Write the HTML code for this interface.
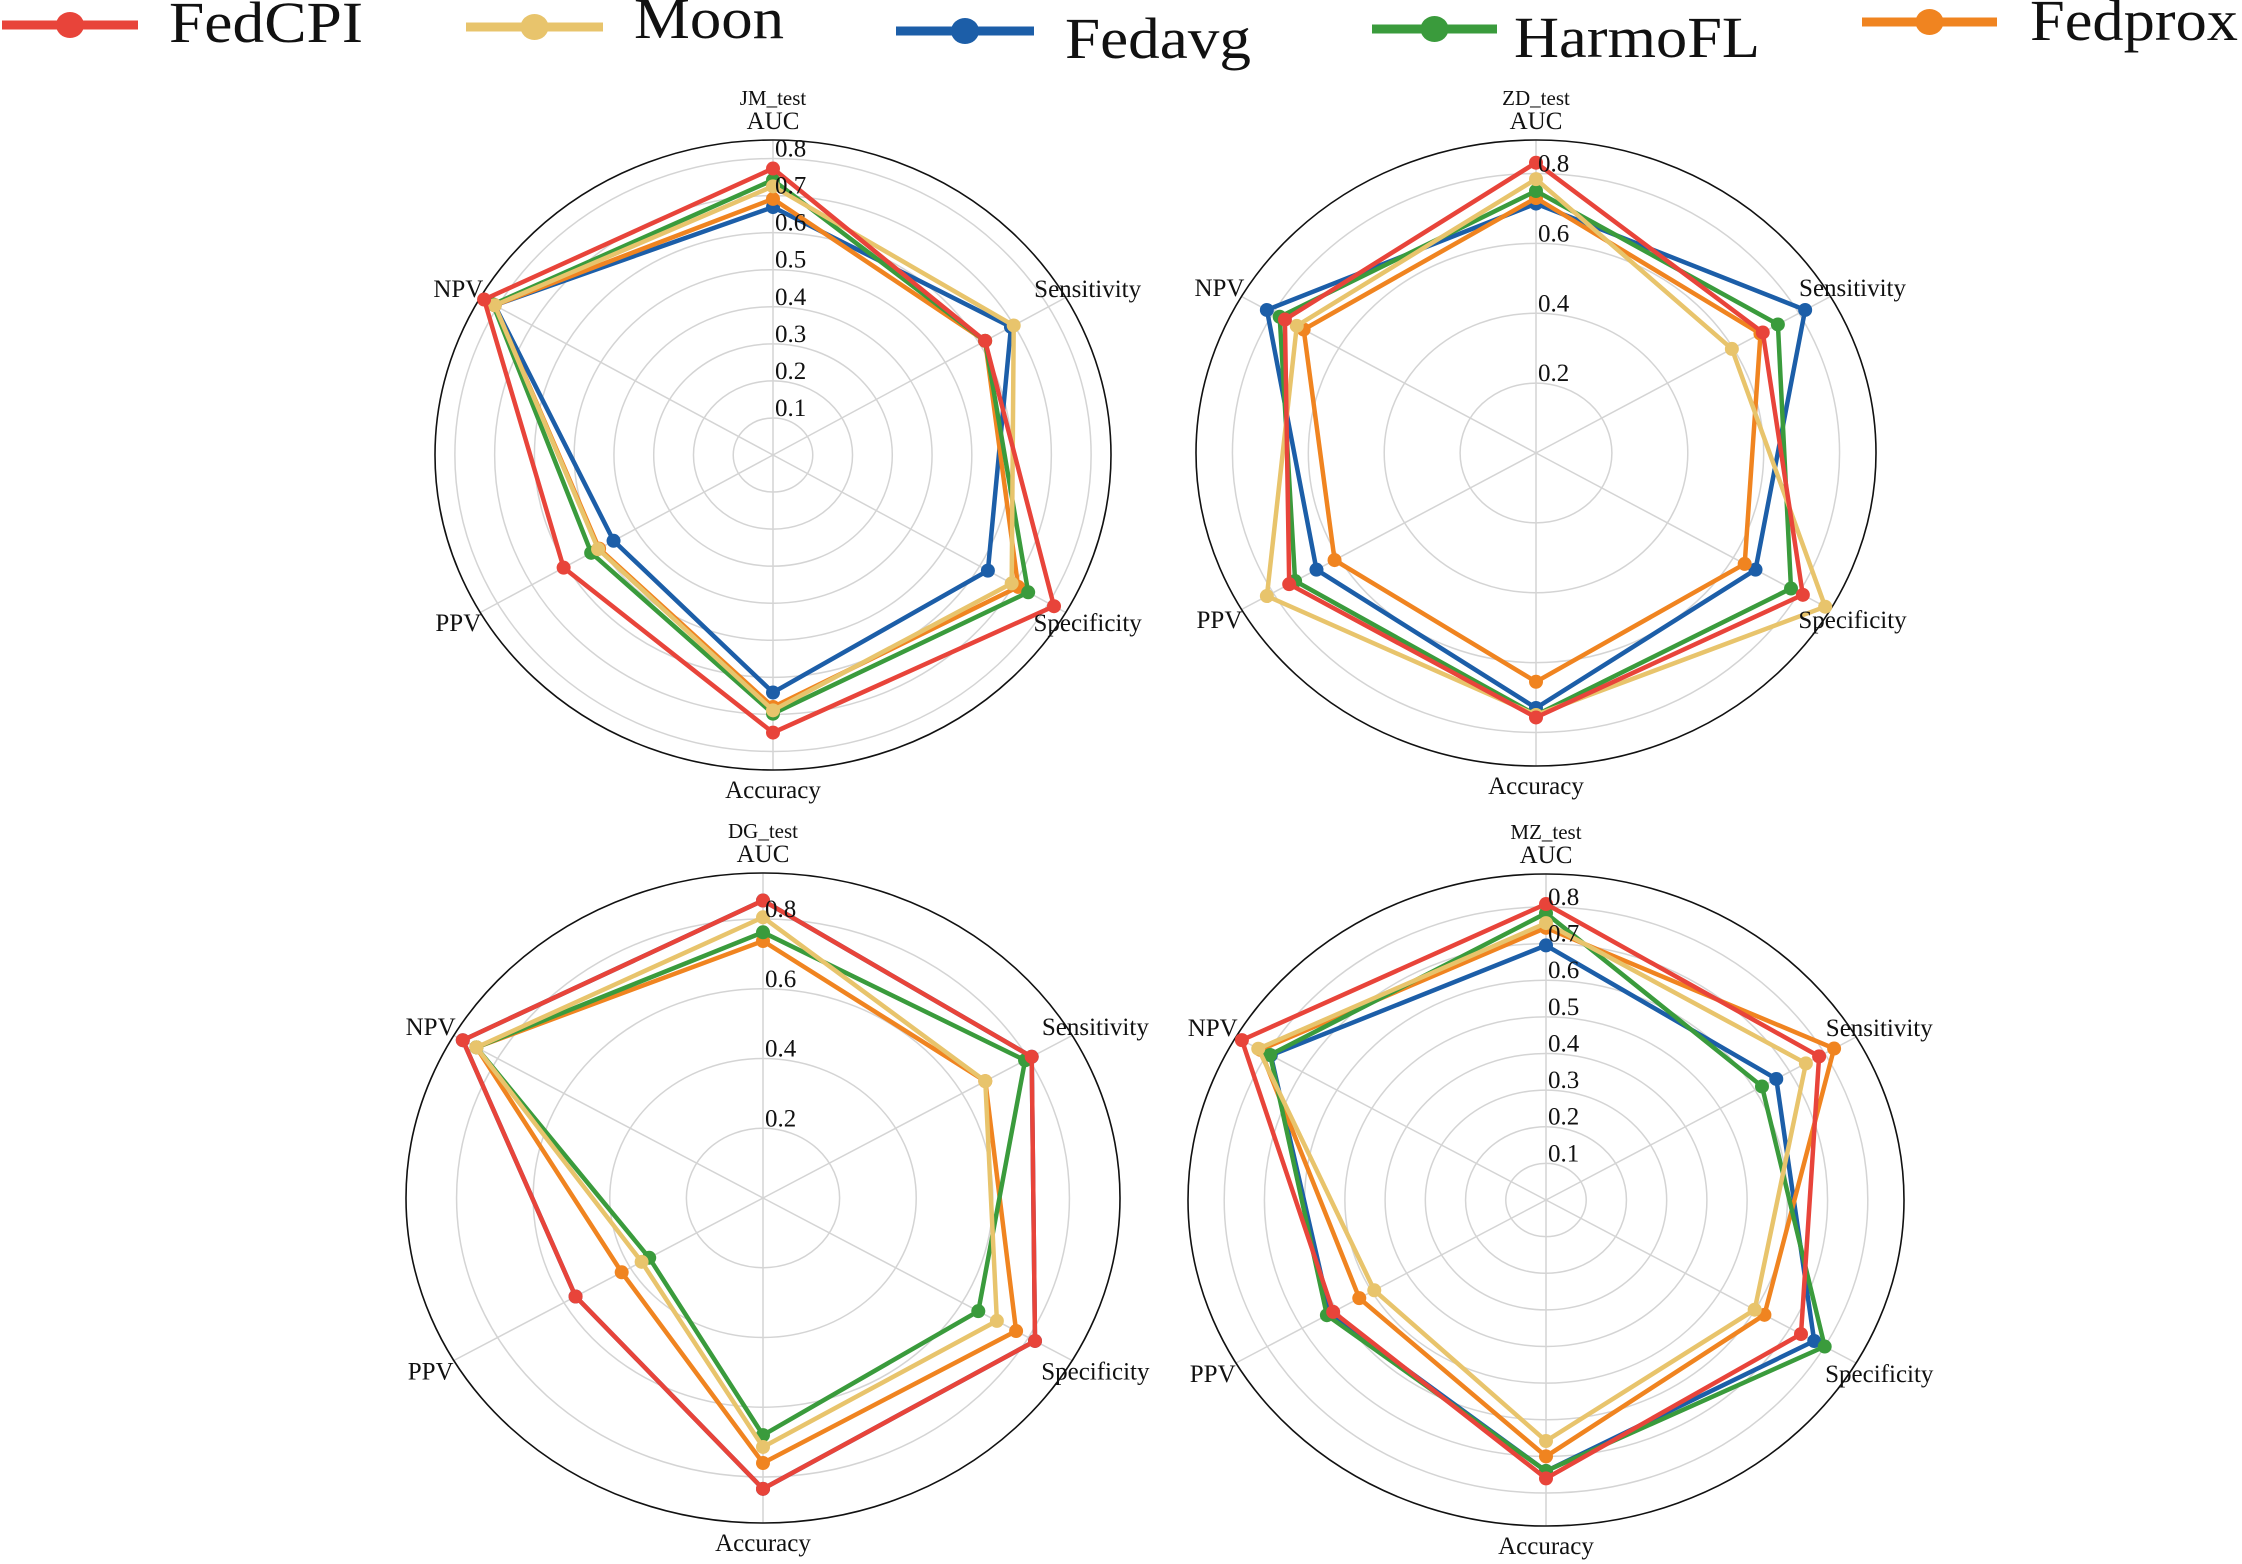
<!DOCTYPE html>
<html><head><meta charset="utf-8"><style>
html,body{margin:0;padding:0;background:#fff;}
svg{display:block;font-family:"Liberation Serif",serif;}
</style></head><body>
<svg id="fig" width="2242" height="1564" viewBox="0 0 2242 1564" xmlns="http://www.w3.org/2000/svg">
<g id="legend"></g>
<g id="charts"></g>
</svg>
<script>
const axesNames = ["AUC","Sensitivity","Specificity","Accuracy","PPV","NPV"];
const methods = ["Fedavg","Fedprox","HarmoFL","Moon","FedCPI"];
const colors = {FedCPI:"#e8443a",Moon:"#e8c46c",Fedavg:"#1c5ea8",HarmoFL:"#3a9b3c",Fedprox:"#f08420"};
const datasets = ["JM_test","ZD_test","DG_test","MZ_test"];
const rMax = [0.85,0.896,0.932,0.89];
const tickSets = [[0.1,0.2,0.3,0.4,0.5,0.6,0.7,0.8],[0.2,0.4,0.6,0.8],[0.2,0.4,0.6,0.8],[0.1,0.2,0.3,0.4,0.5,0.6,0.7,0.8]];
// values order: AUC, Sensitivity, Specificity, Accuracy, PPV, NPV
const jmFedCPI  = [0.773,0.616,0.816,0.749,0.608,0.839];
const jmMoon    = [0.725,0.699,0.693,0.689,0.508,0.808];
const jmFedavg  = [0.669,0.691,0.624,0.641,0.463,0.808];
const jmHarmoFL = [0.742,0.616,0.741,0.698,0.528,0.813];
const jmFedprox = [0.691,0.616,0.712,0.68,0.505,0.808];
const zdFedCPI  = [0.831,0.69,0.812,0.757,0.751,0.764];
const zdMoon    = [0.784,0.596,0.88,0.75,0.819,0.728];
const zdFedavg  = [0.714,0.819,0.668,0.73,0.668,0.819];
const zdHarmoFL = [0.75,0.736,0.776,0.75,0.733,0.78];
const zdFedprox = [0.73,0.683,0.635,0.655,0.613,0.707];
const dgFedCPI  = [0.853,0.81,0.82,0.834,0.565,0.905];
const dgMoon    = [0.805,0.67,0.705,0.714,0.366,0.864];
const dgFedavg  = [0.853,0.81,0.82,0.834,0.565,0.905];
const dgHarmoFL = [0.762,0.79,0.649,0.68,0.343,0.864];
const dgFedprox = [0.737,0.67,0.763,0.76,0.426,0.864];
const mzFedCPI  = [0.808,0.784,0.732,0.76,0.611,0.873];
const mzMoon    = [0.756,0.746,0.599,0.658,0.493,0.826];
const mzFedavg  = [0.695,0.661,0.77,0.74,0.62,0.79];
const mzHarmoFL = [0.783,0.62,0.8,0.74,0.629,0.792];
const mzFedprox = [0.743,0.827,0.627,0.70,0.536,0.82];
const allData = [
 {FedCPI:jmFedCPI,Moon:jmMoon,Fedavg:jmFedavg,HarmoFL:jmHarmoFL,Fedprox:jmFedprox},
 {FedCPI:zdFedCPI,Moon:zdMoon,Fedavg:zdFedavg,HarmoFL:zdHarmoFL,Fedprox:zdFedprox},
 {FedCPI:dgFedCPI,Moon:dgMoon,Fedavg:dgFedavg,HarmoFL:dgHarmoFL,Fedprox:dgFedprox},
 {FedCPI:mzFedCPI,Moon:mzMoon,Fedavg:mzFedavg,HarmoFL:mzHarmoFL,Fedprox:mzFedprox}
];
const legendOrder = ["FedCPI","Moon","Fedavg","HarmoFL","Fedprox"];

const NS="http://www.w3.org/2000/svg";
function mk(tag, attrs, parent){const e=document.createElementNS(NS,tag);for(const k in attrs)e.setAttribute(k,attrs[k]);parent.appendChild(e);return e;}

const panels=[{cx:773,cy:455,rx:338,ry:315},{cx:1536,cy:453,rx:340,ry:313},{cx:763,cy:1198,rx:357,ry:325},{cx:1546,cy:1200,rx:358,ry:326}];
const charts=document.getElementById('charts');
panels.forEach((p,pi)=>{
  const g=mk('g',{},charts);
  
  
  const max=rMax[pi];
  const pt=(i,v)=>{const a=i*Math.PI/3;const f=v/max;return [p.cx+p.rx*f*Math.sin(a),p.cy-p.ry*f*Math.cos(a)];};
  tickSets[pi].forEach(t=>{
    if(t>=max-1e-6)return;
    const e=mk('ellipse',{cx:p.cx,cy:p.cy,rx:p.rx*t/max,ry:p.ry*t/max,fill:'none',stroke:'#d4d4d4','stroke-width':1.5},g);
    
    
  });
  axesNames.forEach((n,i)=>{
    const [x,y]=pt(i,max);
    const l=mk('line',{x1:p.cx,y1:p.cy,x2:x,y2:y,stroke:'#d4d4d4','stroke-width':1.5},g);
    
    
  });
  const outer=mk('ellipse',{cx:p.cx,cy:p.cy,rx:p.rx,ry:p.ry,fill:'none',stroke:'#111','stroke-width':1.6},g);
  
  
  methods.forEach(m=>{
    const vals=allData[pi][m];
    const pts=vals.map((v,i)=>pt(i,v));
    const poly=mk('polygon',{points:pts.map(q=>q[0].toFixed(1)+','+q[1].toFixed(1)).join(' '),fill:'none',stroke:colors[m],'stroke-width':4.5,'stroke-linejoin':'miter'},g);
    
    
    pts.forEach((q,i)=>{
      const c=mk('circle',{cx:q[0],cy:q[1],r:7,fill:colors[m]},g);
      
      
    });
  });
  tickSets[pi].forEach(t=>{
    const y=p.cy-p.ry*t/max-2;
    const tx=mk('text',{x:p.cx+2,y:y,'font-size':25,fill:'#111'},g);
    tx.textContent=t.toFixed(1);
    
    
  });
  axesNames.forEach((n,i)=>{
    if(i===0){
      const t=mk('text',{x:p.cx,y:p.cy-p.ry-11,'font-size':25,'text-anchor':'middle',fill:'#111'},g);
      t.textContent=n;
      
      
      const tt=mk('text',{x:p.cx,y:p.cy-p.ry-35,'font-size':21,'text-anchor':'middle',fill:'#111'},g);
      tt.textContent=datasets[pi];
      
      
      return;
    }
    const a=i*Math.PI/3;
    const x=p.cx+p.rx*1.075*Math.sin(a);
    let y=p.cy-p.ry*1.06*Math.cos(a)+9;
    if(i===3) y=p.cy+p.ry+28;
    const t=mk('text',{x:x,y:y,'font-size':25,'text-anchor':'middle',fill:'#111'},g);
    t.textContent=n;
    
    
  });
});

const legend=document.getElementById('legend');
const legPos={FedCPI:{l0:2,l1:138,ly:25,tx:169,tw:194,ty:42},Moon:{l0:466,l1:603,ly:27,tx:634,tw:150,ty:38},Fedavg:{l0:896,l1:1034,ly:31,tx:1065,tw:186,ty:58},HarmoFL:{l0:1372,l1:1497,ly:29,tx:1514,tw:246,ty:57},Fedprox:{l0:1862,l1:1997,ly:22,tx:2030,tw:208,ty:40}};
legendOrder.forEach(m=>{
  const q=legPos[m];
  const g=mk('g',{},legend);
  
  
  mk('line',{x1:q.l0,y1:q.ly,x2:q.l1,y2:q.ly,stroke:colors[m],'stroke-width':9},g);
  mk('ellipse',{cx:(q.l0+q.l1)/2,cy:q.ly,rx:14,ry:13,fill:colors[m]},g);
  const t=mk('text',{x:q.tx,y:q.ty,'font-size':58,textLength:q.tw,lengthAdjust:'spacingAndGlyphs',fill:'#111'},g);
  t.textContent=m;
});
</script>
</body></html>
